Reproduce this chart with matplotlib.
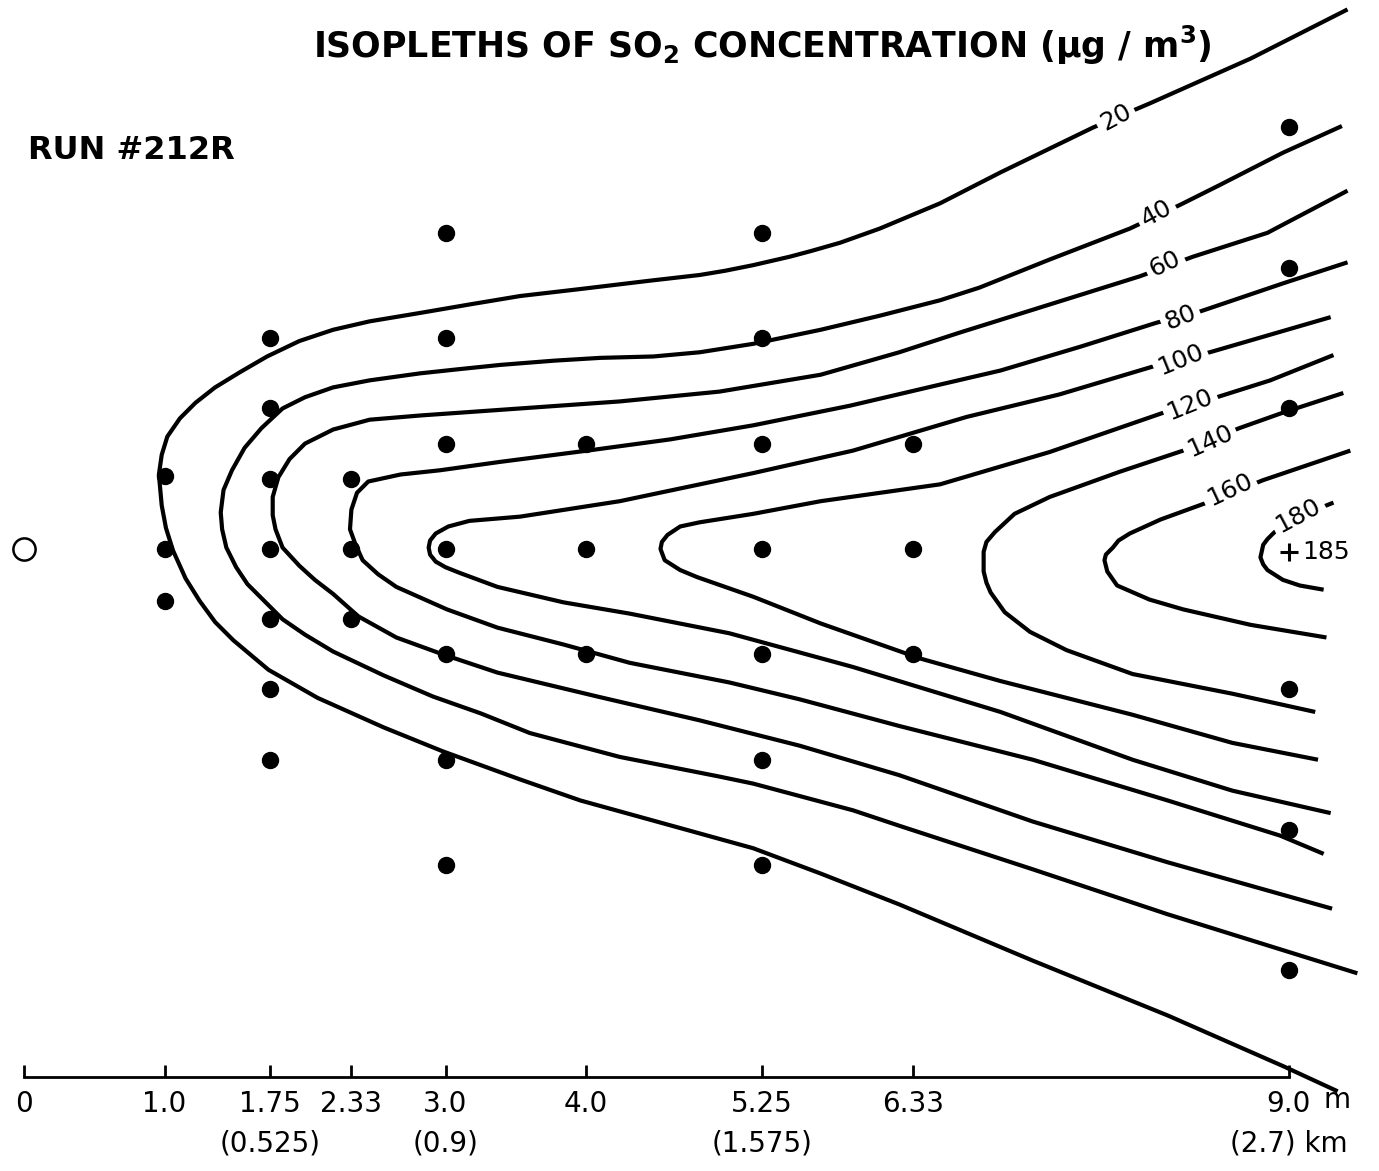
import matplotlib
matplotlib.use('Agg')
import matplotlib.pyplot as plt

plt.rcParams['font.family'] = ['DejaVu Sans']
plt.rcParams['mathtext.default'] = 'regular'

# downwind distance axis
dist_ticks = [0, 1.0, 1.75, 2.33, 3.0, 4.0, 5.25, 6.33, 9.0]
dist_labels = ['0', '1.0', '1.75', '2.33', '3.0', '4.0', '5.25', '6.33', '9.0']
km_at = [1.75, 3.0, 5.25]
km_labels = ['(0.525)', '(0.9)', '(1.575)']

# sampler stations: downwind column and crosswind offsets
col_x = [1.0, 1.75, 2.33, 3.0, 4.0, 5.25, 6.33, 9.0]
col_y = [
    [0.52, 0.0, -0.37],
    [1.5, 1.0, 0.5, 0.0, -0.5, -1.0, -1.5],
    [0.5, 0.0, -0.5],
    [2.25, 1.5, 0.75, 0.0, -0.75, -1.5, -2.25],
    [0.75, 0.0, -0.75],
    [2.25, 1.5, 0.75, 0.0, -0.75, -1.5, -2.25],
    [0.75, 0.0, -0.75],
    [3.0, 2.0, 1.0, -1.0, -2.0, -3.0],
]
source_x = [0.0]
source_y = [0.0]
peak_x = [9.0]
peak_y = [-0.02]
peak_val = 185

# isopleths (downwind, crosswind)
c20_x = [9.42, 8.73, 8.01, 7.61, 6.95, 6.52, 6.09, 5.81, 5.60, 5.45, 5.19, 4.99, 4.81, 4.46, 3.96, 3.53, 3.17, 2.82,
         2.46, 2.20, 1.96, 1.73, 1.54, 1.36, 1.22, 1.11, 1.02, 0.98, 0.96, 0.97, 0.98, 1.01, 1.06, 1.15, 1.25,
         1.36, 1.49, 1.74, 2.09, 2.56, 2.98, 3.53, 3.96, 4.72, 5.19, 5.67, 6.23, 7.18, 8.14, 8.96, 9.35]
c20_y = [3.84, 3.49, 3.17, 3.00, 2.68, 2.46, 2.28, 2.18, 2.12, 2.08, 2.02, 1.98, 1.95, 1.91, 1.85, 1.80, 1.74, 1.68,
         1.62, 1.56, 1.48, 1.37, 1.26, 1.15, 1.04, 0.93, 0.80, 0.67, 0.53, 0.42, 0.31, 0.15, -0.01, -0.21, -0.37,
         -0.52, -0.65, -0.86, -1.06, -1.27, -1.44, -1.64, -1.79, -2.00, -2.13, -2.31, -2.53, -2.93, -3.32, -3.68, -3.86]

c40_x = [9.38, 8.96, 8.51, 8.23, 7.87, 7.30, 6.80, 6.52, 6.09, 5.67, 5.19, 4.81, 4.48, 4.10, 3.77, 3.39,
         3.10, 2.82, 2.46, 2.20, 2.00, 1.84, 1.69, 1.57, 1.48, 1.42, 1.40, 1.41, 1.44, 1.51, 1.59, 1.72,
         1.84, 2.00, 2.20, 2.56, 2.91, 3.25, 3.60, 4.24, 4.95, 5.19, 5.90, 6.23, 7.18, 8.14, 9.49]
c40_y = [3.01, 2.82, 2.59, 2.45, 2.28, 2.06, 1.86, 1.77, 1.66, 1.56, 1.46, 1.40, 1.37, 1.36, 1.34, 1.31,
         1.28, 1.25, 1.20, 1.15, 1.08, 1.00, 0.86, 0.72, 0.56, 0.42, 0.26, 0.14, 0.01, -0.13, -0.25, -0.38,
         -0.50, -0.61, -0.73, -0.90, -1.05, -1.17, -1.31, -1.48, -1.62, -1.67, -1.86, -1.97, -2.28, -2.60, -3.02]

c60_x = [9.42, 8.85, 8.32, 7.94, 7.30, 6.66, 6.23, 5.67, 5.19, 4.95, 4.24, 3.53, 2.82, 2.46, 2.20, 2.00,
         1.89, 1.81, 1.77, 1.77, 1.79, 1.84, 1.96, 2.07, 2.20, 2.38, 2.65, 2.98, 3.37, 4.08, 4.81, 5.52,
         6.23, 7.18, 8.14, 9.31]
c60_y = [2.55, 2.25, 2.08, 1.94, 1.74, 1.54, 1.40, 1.24, 1.16, 1.12, 1.05, 1.00, 0.95, 0.92, 0.85, 0.75,
         0.64, 0.51, 0.37, 0.24, 0.14, 0.01, -0.12, -0.22, -0.32, -0.48, -0.63, -0.75, -0.88, -1.05, -1.22, -1.40,
         -1.61, -1.94, -2.23, -2.56]

c80_x = [9.42, 8.96, 8.37, 8.06, 7.52, 6.95, 6.52, 5.88, 5.19, 4.60, 4.01, 3.39, 2.96, 2.68, 2.45, 2.37,
         2.33, 2.32, 2.36, 2.41, 2.52, 2.65, 3.01, 3.37, 3.84, 4.31, 5.02, 5.52, 6.23, 7.18, 8.14, 8.94, 9.25]
c80_y = [2.04, 1.89, 1.69, 1.61, 1.44, 1.27, 1.17, 1.02, 0.88, 0.78, 0.70, 0.62, 0.56, 0.53, 0.48, 0.40,
         0.28, 0.14, 0.03, -0.08, -0.18, -0.27, -0.43, -0.56, -0.68, -0.81, -0.95, -1.07, -1.26, -1.50, -1.79, -2.04, -2.17]

c100_x = [9.30, 8.44, 8.04, 7.37, 6.71, 5.90, 5.19, 4.24, 3.53, 3.17, 3.02, 2.93, 2.89, 2.88, 2.89, 2.93,
          3.00, 3.10, 3.37, 3.84, 4.31, 5.02, 5.90, 6.95, 7.89, 8.60, 9.30]
c100_y = [1.65, 1.40, 1.30, 1.10, 0.94, 0.70, 0.54, 0.34, 0.23, 0.20, 0.16, 0.11, 0.06, 0.01, -0.04, -0.09,
          -0.13, -0.17, -0.27, -0.38, -0.46, -0.60, -0.84, -1.16, -1.50, -1.72, -1.88]

c120_x = [9.32, 8.87, 8.49, 8.11, 7.30, 6.52, 5.67, 5.19, 4.81, 4.67, 4.58, 4.54, 4.53, 4.56, 4.67, 4.79,
          5.19, 5.67, 6.38, 6.95, 7.89, 8.60, 9.21]
c120_y = [1.38, 1.20, 1.08, 0.97, 0.69, 0.46, 0.34, 0.25, 0.19, 0.16, 0.10, 0.05, 0.00, -0.08, -0.15, -0.20,
          -0.34, -0.53, -0.78, -0.94, -1.18, -1.38, -1.50]

c140_x = [9.39, 8.96, 8.65, 8.25, 7.80, 7.30, 7.05, 6.91, 6.85, 6.83, 6.83, 6.85, 6.88, 6.98, 7.16, 7.42,
          7.89, 8.60, 9.19]
c140_y = [1.11, 0.97, 0.86, 0.70, 0.55, 0.37, 0.25, 0.12, 0.05, -0.02, -0.16, -0.24, -0.31, -0.45, -0.59, -0.72,
          -0.89, -1.03, -1.16]

c160_x = [9.44, 8.82, 8.42, 8.09, 7.87, 7.79, 7.75, 7.70, 7.69, 7.71, 7.78, 8.01, 8.25, 8.73, 9.27]
c160_y = [0.70, 0.49, 0.33, 0.21, 0.11, 0.06, 0.01, -0.04, -0.08, -0.16, -0.26, -0.36, -0.43, -0.54, -0.63]

c180_x = [9.32, 9.22, 8.98, 8.89, 8.85, 8.82, 8.80, 8.82, 8.85, 8.96, 9.08, 9.25]
c180_y = [0.33, 0.29, 0.19, 0.11, 0.07, 0.03, -0.06, -0.11, -0.15, -0.22, -0.26, -0.29]

levels = [20, 40, 60, 80, 100, 120, 140, 160, 180]
curves_x = [c20_x, c40_x, c60_x, c80_x, c100_x, c120_x, c140_x, c160_x, c180_x]
curves_y = [c20_y, c40_y, c60_y, c80_y, c100_y, c120_y, c140_y, c160_y, c180_y]

# where the level numbers sit on each line
lab_x = [7.77, 8.06, 8.12, 8.23, 8.23, 8.30, 8.44, 8.58, 9.07]
lab_y = [3.07, 2.39, 2.03, 1.65, 1.35, 1.03, 0.77, 0.42, 0.24]
lab_rot = [28, 28, 25, 22, 22, 22, 24, 25, 28]

fig = plt.figure(figsize=(13.79, 11.71), dpi=100)
ax = fig.add_axes([0, 0, 1, 1])
ax.set_xlim(-0.171, 9.644)
ax.set_ylim(-4.427, 3.907)

for xs, ys in zip(curves_x, curves_y):
    ax.plot(xs, ys, color='black', lw=3.0, solid_joinstyle='round', solid_capstyle='butt', zorder=2)

for lev, x, y, r in zip(levels, lab_x, lab_y, lab_rot):
    ax.text(x, y, str(lev), rotation=r, rotation_mode='anchor', ha='center', va='center',
            fontsize=18, zorder=3, bbox=dict(fc='white', ec='none', pad=3))

samp_x = [cx for cx, ys in zip(col_x, col_y) for _ in ys]
samp_y = [y for ys in col_y for y in ys]
ax.plot(samp_x, samp_y, 'o', color='black', ms=11.5, zorder=4)
ax.plot(source_x, source_y, 'o', mfc='white', mec='black', ms=16, mew=1.8, zorder=4)

ax.plot(peak_x, peak_y, '+', color='black', ms=13, mew=2.2, zorder=4)
ax.text(peak_x[0] + 0.1, peak_y[0], str(peak_val), ha='left', va='center', fontsize=18)

# distance axis along the bottom
axis_y = -3.76
for s in ['top', 'left', 'right']:
    ax.spines[s].set_visible(False)
ax.spines['bottom'].set_position(('data', axis_y))
ax.spines['bottom'].set_bounds(0, 9.0)
ax.spines['bottom'].set_linewidth(2.0)
ax.set_xticks(dist_ticks, dist_labels)
ax.set_yticks([])
ax.tick_params(axis='x', direction='in', length=9, width=2.0, pad=9, labelsize=20)

row2_y = -4.23
for xv, lbl in zip(km_at, km_labels):
    ax.text(xv, row2_y, lbl, ha='center', va='center', fontsize=20)
ax.text(8.58, row2_y, '(2.7) km', ha='left', va='center', fontsize=20)
ax.text(9.25, -3.92, 'm', ha='left', va='center', fontsize=20)

fig.text(0.5526, 0.9616, 'ISOPLETHS OF SO$_2$ CONCENTRATION (μg / m$^3$)',
         ha='center', va='center', fontsize=25, fontweight='bold')
fig.text(0.0203, 0.8719, 'RUN #212R', ha='left', va='center', fontsize=23, fontweight='bold')

fig.savefig('out.png', dpi=100)
